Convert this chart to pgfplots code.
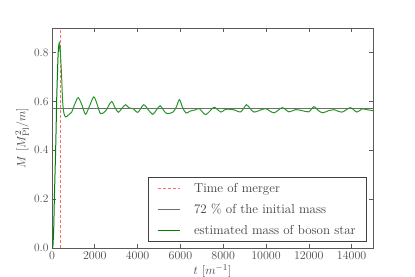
\documentclass[border=0pt]{standalone}
\usepackage{pgfplots}
\pgfplotsset{compat=1.18}
\definecolor{lgreen}{RGB}{40,150,40}
\definecolor{dgreen}{RGB}{0,128,0}
\definecolor{lred}{RGB}{255,110,110}
\definecolor{lgray}{RGB}{110,110,110}
\definecolor{framec}{RGB}{90,90,90}
\begin{document}
\begin{tikzpicture}
\begin{axis}[
  scale only axis, width=321pt, height=220pt,
  xmin=0, xmax=15000, ymin=0, ymax=0.9,
  xtick={0,2000,...,14000}, ytick={0,0.2,0.4,0.6,0.8},
  yticklabels={0.0,0.2,0.4,0.6,0.8},
  scaled x ticks=false,
  xticklabel style={/pgf/number format/1000 sep={}},
  tick label style={font=\fontsize{11.5}{13}\selectfont, text=black!70},
  label style={font=\fontsize{13}{15}\selectfont, text=black!75},
  tick align=inside, tick pos=both, major tick length=4pt,
  axis line style={framec, line width=0.7pt},
  every tick/.style={framec, line width=0.6pt},
  xlabel={$t\ [m^{-1}]$}, ylabel={$M\ [M_{\mathrm{Pl}}^2/m]$},
  xlabel style={at={(axis description cs:0.5,0)}, anchor=north, yshift=-13pt},
  ylabel style={at={(axis description cs:-0.093,0.5)}, anchor=center},
  legend cell align=left,
  legend style={at={(1,0)}, anchor=south east, xshift=-6pt, yshift=6pt,
    font=\fontsize{13}{16}\selectfont, text=black!75, draw=black!75, line width=0.7pt,
    inner xsep=9pt, inner ysep=4pt, row sep=6pt, column sep=0pt,
    /tikz/every odd column/.style={column sep=12pt}},
  legend image code/.code={\draw[#1] (0pt,0pt) -- (22pt,0pt);},
]
\addplot[draw=lred, dashed, line width=0.8pt, dash pattern=on 3pt off 2pt] coordinates {(400,0) (400,0.9)};
\addlegendentry{Time of merger}
\addplot[draw=lgray, line width=0.9pt] coordinates {(0,0.57) (15000,0.57)};
\addlegendentry{72 \% of the initial mass}
\addplot[draw=dgreen, line width=1pt, smooth, tension=0.5, forget plot] coordinates {
(0,0) (40,0.005) (80,0.08) (110,0.2) (140,0.3) (170,0.4) (195,0.5) (217,0.6) (250,0.7) (290,0.8) (340,0.838) (390,0.8)
};
\addplot[draw=lgreen, line width=1pt, smooth, tension=0.5, forget plot] coordinates {
(340,0.838) (390,0.8) (450,0.7) (497,0.6) (560,0.55) (650,0.536) (780,0.545) (915,0.555) (1070,0.59) (1225,0.615) (1400,0.585) (1565,0.547) (1750,0.58) (1953,0.618) (2120,0.585) (2264,0.55) (2500,0.56) (2775,0.599) (2940,0.575) (3100,0.555) (3270,0.572) (3442,0.586) (3600,0.573) (3800,0.57) (4015,0.555) (4280,0.586) (4500,0.565) (4713,0.547) (4880,0.565) (5054,0.582) (5200,0.565) (5364,0.55) (5640,0.555) (5800,0.575) (5953,0.607) (6100,0.575) (6264,0.552) (6450,0.56) (6700,0.565) (6884,0.57) (7163,0.546) (7400,0.562) (7581,0.576) (7891,0.556) (8050,0.565) (8202,0.568) (8512,0.565) (8822,0.557) (9085,0.586) (9260,0.57) (9442,0.556) (9675,0.562) (9985,0.57) (10372,0.553) (10760,0.574) (11070,0.557) (11380,0.566) (11690,0.562) (12000,0.557) (12233,0.578) (12450,0.562) (12651,0.553) (12930,0.562) (13163,0.566) (13550,0.556) (13938,0.574) (14248,0.556) (14481,0.569) (14700,0.566) (15000,0.562)
};
\addlegendimage{draw=dgreen, line width=1pt}
\addlegendentry{estimated mass of boson star}
\end{axis}
\pgfresetboundingbox
\path ([shift={(-52pt,-29pt)}]current axis.south west) rectangle ([shift={(42pt,28pt)}]current axis.north east);
\end{tikzpicture}
\end{document}
